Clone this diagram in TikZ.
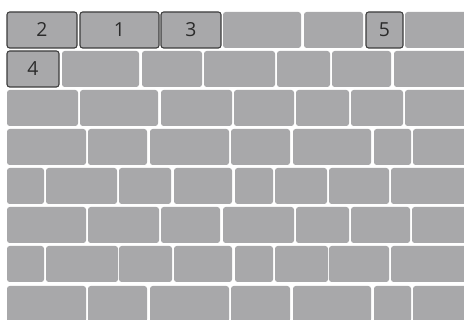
\documentclass[tikz,border=0pt]{standalone}
\usepackage{fontspec}
\setmainfont{Open Sans}
\usetikzlibrary{positioning}
\definecolor{Brick}{HTML}{A8A8AA}
\definecolor{Edge}{HTML}{3C3C3C}
\definecolor{Ink}{HTML}{2B2B2B}
\tikzset{
  brick/.style={fill=Brick, rounded corners=2pt},
  numbrick/.style={rectangle, draw=Edge, fill=Brick, line width=0.8pt, rounded corners=2pt, inner sep=0pt, minimum height=27pt, font=\fontsize{14.5}{16}\selectfont, text=Ink},
}

\begin{document}
\begin{tikzpicture}[x=0.75pt,y=-0.75pt]
\path[use as bounding box] (0,0) rectangle (464,320);

% plain bricks, one row per entry: top edge / list of left-right spans
\foreach \y/\xs in {
  12/{223/301,304/363,405/470},
  51/{62/139,142/202,204/275,277/330,332/391,394/470},
  90/{7/78,80/158,161/232,234/294,296/349,351/403,405/470},
  129/{7/86,88/147,150/229,231/290,293/371,374/411,413/470},
  168/{7/44,46/117,119/171,174/232,235/273,275/327,329/389,391/470},
  207/{7/86,88/159,161/220,223/294,296/349,351/410,412/470},
  246/{7/44,46/118,119/172,174/232,235/273,275/328,329/389,391/470},
  286/{7/86,88/147,150/229,231/290,293/371,374/411,413/470}}
  \foreach \a/\b in \xs
    \fill[brick] (\a,\y) rectangle (\b,\y+36);

% numbered bricks
\node[numbrick, minimum width=52.5pt] (two) at (42,30) {2};
\node[numbrick, minimum width=59.25pt] (one) at (119.5,30) {1};
\node[numbrick, minimum width=45pt] (three) at (191,30) {3};
\node[numbrick, minimum width=27.75pt] (five) at (384.5,30) {5};
\node[numbrick, minimum width=39pt] (four) at (33,69) {4};
\end{tikzpicture}
\end{document}
